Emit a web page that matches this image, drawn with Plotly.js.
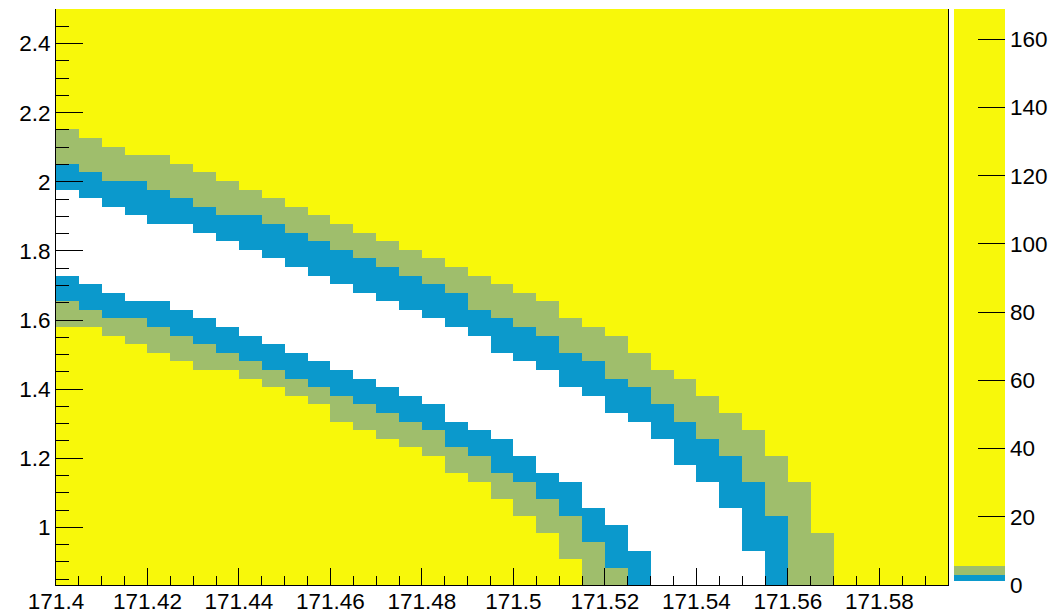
<!DOCTYPE html>
<html>
<head>
<meta charset="utf-8">
<script src="https://cdn.plot.ly/plotly-3.0.1.min.js"></script>
<style>
  html, body { margin: 0; padding: 0; background: #ffffff; }
  #chart { width: 1053px; height: 614px; }
</style>
</head>
<body>
<div id="chart"></div>
<script>
// Binning of the scan: mass on x, second parameter on y
const X_MIN = 171.4, X_BIN = 0.005, NX = 39;
const Y_MIN = 0.8333, Y_MAX = 2.5, NY = 67;

// Band edges for every mass bin (null: the band runs off the bottom of the range).
// Upper branch, outside in
const upperOuter = [2.15, 2.125, 2.1, 2.075, 2.075, 2.05, 2.025, 2.0, 1.975, 1.95,
                    1.925, 1.9, 1.875, 1.85, 1.825, 1.8, 1.775, 1.75, 1.725, 1.7,
                    1.675, 1.65, 1.6, 1.575, 1.55, 1.5, 1.45, 1.425, 1.375, 1.325,
                    1.275, 1.2, 1.125, 0.975, null, null, null, null, null];   // yellow -> green
const upperMid   = [2.05, 2.025, 2.0, 2.0, 1.975, 1.95, 1.925, 1.9, 1.9, 1.875,
                    1.85, 1.825, 1.8, 1.775, 1.75, 1.725, 1.7, 1.675, 1.625, 1.6,
                    1.575, 1.55, 1.5, 1.475, 1.425, 1.4, 1.35, 1.3, 1.25, 1.2,
                    1.125, 1.025, null, null, null, null, null, null, null];  // green -> blue
const upperInner = [1.975, 1.95, 1.925, 1.9, 1.875, 1.875, 1.85, 1.825, 1.8, 1.775,
                    1.75, 1.725, 1.7, 1.675, 1.65, 1.625, 1.6, 1.575, 1.55, 1.5,
                    1.475, 1.45, 1.4, 1.375, 1.325, 1.3, 1.25, 1.175, 1.125, 1.05,
                    0.925, null, null, null, null, null, null, null, null];   // blue -> white
// Lower branch, inside out
const lowerInner = [1.725, 1.7, 1.675, 1.65, 1.65, 1.625, 1.6, 1.575, 1.55, 1.525,
                    1.5, 1.475, 1.45, 1.425, 1.4, 1.375, 1.35, 1.3, 1.275, 1.25,
                    1.2, 1.15, 1.125, 1.05, 1.0, 0.925, null, null, null, null,
                    null, null, null, null, null, null, null, null, null];    // white -> blue
const lowerMid   = [1.65, 1.625, 1.6, 1.6, 1.575, 1.55, 1.525, 1.5, 1.475, 1.45,
                    1.425, 1.4, 1.375, 1.35, 1.325, 1.3, 1.275, 1.225, 1.2, 1.15,
                    1.125, 1.075, 1.025, 0.95, 0.875, null, null, null, null, null,
                    null, null, null, null, null, null, null, null, null];    // blue -> green
const lowerOuter = [1.575, 1.575, 1.55, 1.525, 1.5, 1.475, 1.45, 1.45, 1.425, 1.4,
                    1.375, 1.35, 1.3, 1.275, 1.25, 1.225, 1.2, 1.15, 1.125, 1.075,
                    1.025, 0.975, 0.9, null, null, null, null, null, null, null,
                    null, null, null, null, null, null, null, null, null];    // green -> yellow

// Contour levels (palette axis) and the colour of each band
const levels     = [0, 1.17, 2.93, 5.66, 168.9];
const bandColors = ['#ffffff', '#0b99cc', '#9fbe6c', '#f8f80a'];
const bandValues = [0.5, 2.0, 4.3, 80];

// Axis ticks
const xTick0 = 171.4, xDtick = 0.02, xMinorDtick = 0.005;
const yDtick = 0.2, yMinorDtick = 0.05;
const zDtick = 20;

const yBin = (Y_MAX - Y_MIN) / NY;
const xEdges = Array.from({length: NX + 1}, (_, i) => X_MIN + i * X_BIN);
const yEdges = Array.from({length: NY + 1}, (_, j) => Y_MIN + j * yBin);

function edgeIndex(v) {
  return v === null ? 0 : Math.round((v - Y_MIN) / yBin);
}

const z = [];
for (let j = 0; j < NY; j++) {
  const row = [];
  for (let i = 0; i < NX; i++) {
    let band;
    if (j >= edgeIndex(upperOuter[i])) band = 3;
    else if (j >= edgeIndex(upperMid[i])) band = 2;
    else if (j >= edgeIndex(upperInner[i])) band = 1;
    else if (j >= edgeIndex(lowerInner[i])) band = 0;
    else if (j >= edgeIndex(lowerMid[i])) band = 1;
    else if (j >= edgeIndex(lowerOuter[i])) band = 2;
    else band = 3;
    row.push(bandValues[band]);
  }
  z.push(row);
}

const zMax = levels[levels.length - 1];
const colorscale = [];
for (let k = 0; k < bandColors.length; k++) {
  colorscale.push([levels[k] / zMax, bandColors[k]]);
  colorscale.push([levels[k + 1] / zMax, bandColors[k]]);
}

const tickFont = {family: 'Liberation Sans, Arial, sans-serif', size: 22.5, color: '#000000'};

const trace = {
  type: 'heatmap',
  x: xEdges,
  y: yEdges,
  z: z,
  zmin: 0,
  zmax: zMax,
  zsmooth: false,
  colorscale: colorscale,
  hoverinfo: 'skip',
  colorbar: {
    thickness: 51, thicknessmode: 'pixels',
    len: 1, lenmode: 'fraction',
    xref: 'container', x: 953.5 / 1053, xanchor: 'left', xpad: 0,
    y: 0.5, yanchor: 'middle', ypad: 0,
    outlinewidth: 0,
    ticks: 'inside', ticklen: 27, tickwidth: 1, tickcolor: '#000000',
    tickmode: 'linear', tick0: 0, dtick: zDtick,
    tickfont: tickFont
  }
};

const layout = {
  width: 1053, height: 614,
  margin: {l: 56, r: 105, t: 9, b: 29, pad: 0, autoexpand: false},
  paper_bgcolor: '#ffffff', plot_bgcolor: '#ffffff',
  showlegend: false,
  xaxis: {
    range: [X_MIN, X_MIN + NX * X_BIN],
    showgrid: false, zeroline: false,
    showline: true, linecolor: '#000000', linewidth: 1,
    ticks: 'inside', ticklen: 17, tickwidth: 1, tickcolor: '#000000',
    tickmode: 'linear', tick0: xTick0, dtick: xDtick,
    minor: {ticks: 'inside', ticklen: 9, tickwidth: 1, tickcolor: '#000000',
            tick0: xTick0, dtick: xMinorDtick, showgrid: false},
    ticklabelstandoff: -4,
    tickfont: tickFont
  },
  yaxis: {
    range: [Y_MIN, Y_MAX],
    showgrid: false, zeroline: false,
    showline: true, mirror: true, linecolor: '#000000', linewidth: 1,
    ticks: 'inside', ticklen: 27, tickwidth: 1, tickcolor: '#000000',
    tickmode: 'linear', tick0: 0, dtick: yDtick,
    minor: {ticks: 'inside', ticklen: 13, tickwidth: 1, tickcolor: '#000000',
            tick0: 0, dtick: yMinorDtick, showgrid: false},
    tickfont: tickFont
  },
  shapes: [{
    type: 'line', xref: 'paper', yref: 'paper',
    x0: 1.0631, x1: 1.0631, y0: 0, y1: 1,
    line: {color: '#000000', width: 1}
  }]
};

Plotly.newPlot('chart', [trace], layout, {displayModeBar: false, staticPlot: true});
</script>
</body>
</html>
